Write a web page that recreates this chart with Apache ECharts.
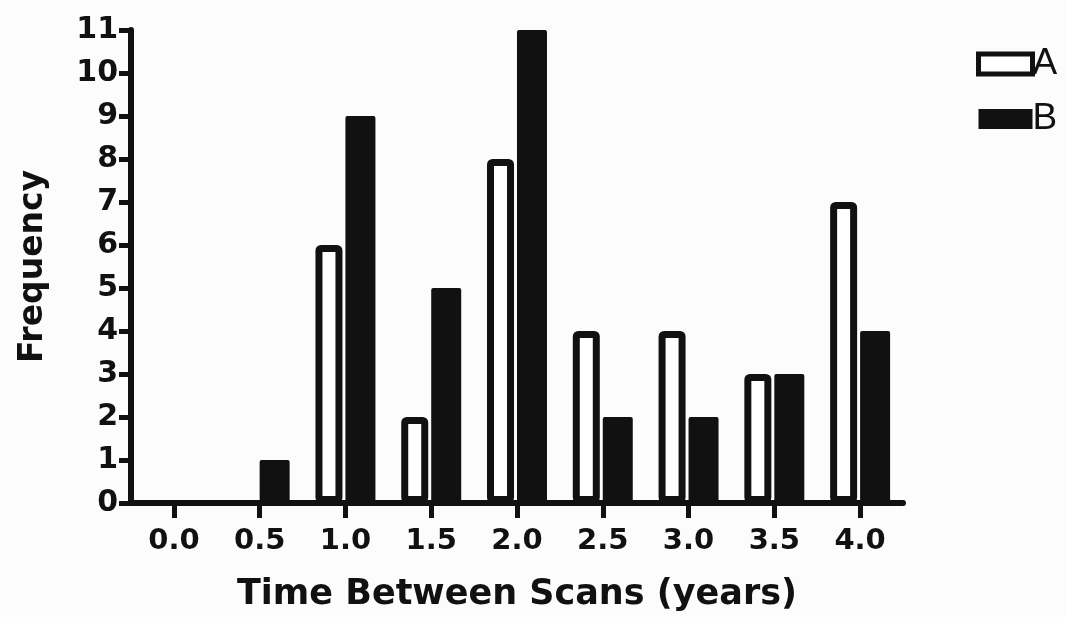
<!DOCTYPE html>
<html>
<head>
<meta charset="utf-8">
<script src="https://cdn.jsdelivr.net/npm/echarts@6/dist/echarts.min.js"></script>
<style>html,body{margin:0;padding:0;background:#fcfcfc;}#c{width:1067px;height:617px;}</style>
</head>
<body>
<div id="c"></div>
<script>
const categories = ['0.0','0.5','1.0','1.5','2.0','2.5','3.0','3.5','4.0'];
const seriesA = [0,0,6,2,8,4,4,3,7];
const seriesB = [0,1,9,5,11,2,2,3,4];
const yTicks = [0,1,2,3,4,5,6,7,8,9,10,11];
const xTitle = 'Time Between Scans (years)';
const yTitle = 'Frequency';

const chart = echarts.init(document.getElementById('c'), null, {renderer:'canvas'});
const ink = '#111111';
const boldFont = 'DejaVu Sans';
// zero-height bars get no border so no blob is drawn on the axis
const toData = arr => arr.map(v => v === 0 ? {value:v, itemStyle:{borderWidth:0, opacity:0}} : v);
chart.setOption({
  backgroundColor: '#fcfcfc',
  animation: false,
  grid: {left:131, right:164, top:30, bottom:111},
  legend: {
    orient:'vertical', left:976, top:44, padding:0,
    itemWidth:54, itemHeight:20, itemGap:15,
    icon:'rect',
    textStyle:{fontFamily:'Liberation Sans, Arial', fontSize:37, lineHeight:38, color:ink, padding:[2,0,0,-5]},
    data:[
      {name:'A', itemStyle:{color:'#fff', borderColor:ink, borderWidth:5}},
      {name:'B', itemStyle:{color:ink, borderColor:ink, borderWidth:0}}
    ]
  },
  xAxis: {
    type:'category', data:categories, boundaryGap:true,
    axisLine:{lineStyle:{color:ink, width:6}},
    axisTick:{show:true, interval:0, alignWithLabel:true, length:15, lineStyle:{color:ink, width:5}},
    axisLabel:{interval:0, fontFamily:boldFont, fontWeight:'bold', fontSize:29, color:ink, margin:24},
    name:xTitle, nameLocation:'middle', nameGap:74,
    nameTextStyle:{fontFamily:boldFont, fontWeight:'bold', fontSize:35, color:ink}
  },
  yAxis: {
    type:'value', min:yTicks[0], max:yTicks[yTicks.length-1], interval:1,
    axisLine:{show:true, lineStyle:{color:ink, width:6}},
    axisTick:{show:true, length:12, lineStyle:{color:ink, width:5}},
    splitLine:{show:false},
    axisLabel:{fontFamily:boldFont, fontWeight:'bold', fontSize:30, color:ink, margin:13},
    name:yTitle, nameLocation:'middle', nameGap:81, nameRotate:90,
    nameTextStyle:{fontFamily:boldFont, fontWeight:'bold', fontSize:33, color:ink}
  },
  series: [
    {name:'A', type:'bar', data:toData(seriesA), barWidth:27, barGap:'11%',
     itemStyle:{color:'#fff', borderColor:ink, borderWidth:7, borderRadius:2}},
    {name:'B', type:'bar', data:toData(seriesB), barWidth:30,
     itemStyle:{color:ink, borderColor:ink, borderWidth:0, borderRadius:2}}
  ]
});
</script>
</body>
</html>
